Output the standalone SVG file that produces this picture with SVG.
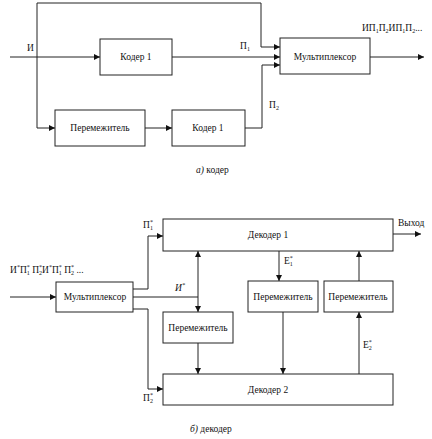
<svg xmlns="http://www.w3.org/2000/svg" width="432" height="439" viewBox="0 0 432 439">
<defs>
<style>
.box{fill:#fff;stroke:#222;stroke-width:1}
.ln{fill:none;stroke:#222;stroke-width:1}
text{font-family:"Liberation Serif","Times New Roman",serif;font-size:9.5px;fill:#111}
.c{text-anchor:middle}
.s{font-size:6px}
.i{font-style:italic}
</style>
<marker id="ar" viewBox="0 0 10 10" refX="10" refY="5" markerWidth="8" markerHeight="6" markerUnits="userSpaceOnUse" orient="auto-start-reverse">
<path d="M0,0 L10,5 L0,10 z" fill="#111"/>
</marker>
</defs>
<rect width="432" height="439" fill="#fff"/>
<g id="connectors">
<path class="ln" d="M10,57 H100" marker-end="url(#ar)"/>
<path class="ln" d="M37,57 V3 H261 V47 H280" marker-end="url(#ar)"/>
<path class="ln" d="M37,57 V128 H55" marker-end="url(#ar)"/>
<path class="ln" d="M145,128 H172" marker-end="url(#ar)"/>
<path class="ln" d="M172,57 H280" marker-end="url(#ar)"/>
<path class="ln" d="M245,128 H262 V65 H280" marker-end="url(#ar)"/>
<path class="ln" d="M370,57 H424" marker-end="url(#ar)"/>
<path class="ln" d="M393,234 H421" marker-end="url(#ar)"/>
<path class="ln" d="M10,297 H56" marker-end="url(#ar)"/>
<path class="ln" d="M133,289 H148 V236 H163" marker-end="url(#ar)"/>
<path class="ln" d="M133,297 H198"/>
<path class="ln" d="M198,251 V312" marker-start="url(#ar)" marker-end="url(#ar)"/>
<path class="ln" d="M198,343 V374" marker-end="url(#ar)"/>
<path class="ln" d="M133,309 H148 V389 H163" marker-end="url(#ar)"/>
<path class="ln" d="M279,251 V281" marker-end="url(#ar)"/>
<path class="ln" d="M283,312 V374" marker-end="url(#ar)"/>
<path class="ln" d="M359,374 V312" marker-end="url(#ar)"/>
<path class="ln" d="M359,281 V251" marker-end="url(#ar)"/>
</g>
<g id="labels">
<text x="27" y="51">И</text>
<text x="240" y="49">П<tspan class="s" dy="2">1</tspan></text>
<text x="269" y="108">П<tspan class="s" dy="2">2</tspan></text>
<text x="362" y="31">ИП<tspan class="s" dy="2">1</tspan><tspan dy="-2">П</tspan><tspan class="s" dy="2">2</tspan><tspan dy="-2">ИП</tspan><tspan class="s" dy="2">1</tspan><tspan dy="-2">П</tspan><tspan class="s" dy="2">2</tspan><tspan dy="-2">...</tspan></text>
<text x="196" y="173"><tspan class="i">а)</tspan> кодер</text>
<text x="10" y="273">И<tspan class="s" dy="-4">*</tspan><tspan dy="4">П</tspan><tspan class="s" dy="-4">*</tspan><tspan class="s" dx="-3" dy="6">1</tspan><tspan dy="-2"> П</tspan><tspan class="s" dy="-4">*</tspan><tspan class="s" dx="-3" dy="6">2</tspan><tspan dy="-2">И</tspan><tspan class="s" dy="-4">*</tspan><tspan dy="4">П</tspan><tspan class="s" dy="-4">*</tspan><tspan class="s" dx="-3" dy="6">1</tspan><tspan dy="-2"> П</tspan><tspan class="s" dy="-4">*</tspan><tspan class="s" dx="-3" dy="6">2</tspan><tspan dy="-2"> ...</tspan></text>
<text x="143" y="228">П<tspan class="s" dy="-4">*</tspan><tspan class="s" dx="-3" dy="6">1</tspan></text>
<text x="175" y="291" class="i">И<tspan class="s" dy="-4">*</tspan></text>
<text x="143" y="401">П<tspan class="s" dy="-4">*</tspan><tspan class="s" dx="-3" dy="6">2</tspan></text>
<text x="284" y="264">E<tspan class="s" dy="-4">*</tspan><tspan class="s" dx="-3" dy="6">1</tspan></text>
<text x="363" y="348">E<tspan class="s" dy="-4">*</tspan><tspan class="s" dx="-3" dy="6">2</tspan></text>
<text x="398" y="226">Выход</text>
<text x="190" y="432"><tspan class="i">б)</tspan> декодер</text>
</g>
<g id="coder1"><rect class="box" x="100" y="39" width="72" height="36"/><text class="c" x="136" y="60">Кодер 1</text></g>
<g id="interleaver"><rect class="box" x="55" y="110" width="90" height="36"/><text class="c" x="100" y="131">Перемежитель</text></g>
<g id="coder1b"><rect class="box" x="172" y="110" width="73" height="36"/><text class="c" x="208" y="131">Кодер 1</text></g>
<g id="mux1"><rect class="box" x="280" y="38" width="90" height="36"/><text class="c" x="325" y="60">Мультиплексор</text></g>
<g id="decoder1"><rect class="box" x="163" y="219" width="230" height="32"/><text class="c" x="268" y="238">Декодер 1</text></g>
<g id="mux2"><rect class="box" x="56" y="282" width="77" height="30"/><text class="c" x="95" y="300">Мультиплексор</text></g>
<g id="interleaverL"><rect class="box" x="163" y="312" width="70" height="31"/><text class="c" x="198" y="331">Перемежитель</text></g>
<g id="interleaverM"><rect class="box" x="248" y="281" width="70" height="31"/><text class="c" x="283" y="300">Перемежитель</text></g>
<g id="interleaverR"><rect class="box" x="324" y="281" width="69" height="31"/><text class="c" x="358" y="300">Перемежитель</text></g>
<g id="decoder2"><rect class="box" x="163" y="374" width="230" height="31"/><text class="c" x="268" y="393">Декодер 2</text></g>
</svg>
